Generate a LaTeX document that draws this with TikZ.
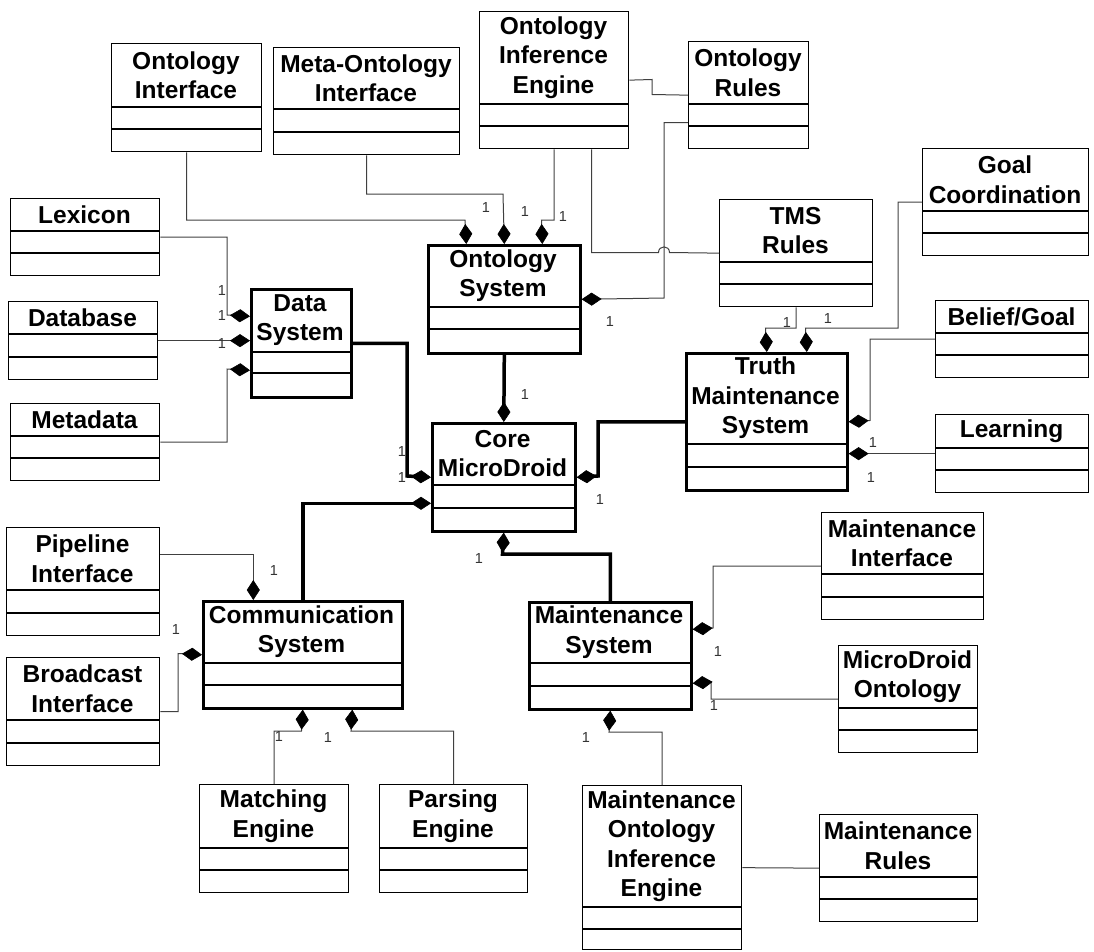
\documentclass[tikz,border=0pt]{standalone}
\usepackage{fontspec}
\setmainfont{Liberation Sans}
\usetikzlibrary{arrows.meta}

\tikzset{
  cls/.style={draw=black, line width=1.3pt, inner sep=0pt},
  syscls/.style={draw=black, line width=2.6pt, inner sep=0pt},
  clsrule/.style={line width=1.3pt},
  sysclsrule/.style={line width=2.6pt},
  title/.style={font=\fontsize{24.5}{29.5}\selectfont\bfseries, align=center, inner sep=0pt},
  assoc/.style={line width=1pt, draw=black!75},
  part/.style={assoc, -{Diamond[length=20pt,width=13pt,line width=0.6pt,color=black]}},
  corelink/.style={line width=3.5pt, draw=black, -{Diamond[length=20pt,width=13pt,line width=0.6pt]}},
  mult/.style={font=\fontsize{14.5}{14.5}\selectfont, text=black!80, inner sep=0pt},
}

% #1 name, #2 left, #3 top, #4 right, #5 bottom, #6/#7 compartment rules, #8 title, #9 style
\newcommand\umlclass[9]{%
  \node[#9, minimum width={(#4-#2)*1pt}, minimum height={(#5-#3)*1pt}, anchor=north west] (#1) at (#2,#3) {};
  \draw[#9rule] (#2,#6) -- (#4,#6) (#2,#7) -- (#4,#7);
  \node[title] (#1-title) at ({(#2+#4)/2},{(#3+#6)/2}) {#8};
}

\begin{document}
\begin{tikzpicture}[x=1pt,y=-1pt]
\useasboundingbox (0,0) rectangle (1094,951);

% ontology part
\umlclass{oi}{111}{43}{261}{151}{107}{129}{Ontology\\Interface}{cls}
\umlclass{moi}{273}{47}{459}{154}{109}{132}{Meta-Ontology\\Interface}{cls}
\umlclass{oie}{479}{11}{628}{148}{104}{126}{Ontology\\Inference\\Engine}{cls}
\umlclass{orules}{688}{41}{808}{148}{104}{126}{Ontology\\Rules}{cls}
\umlclass{os}{427}{244}{579}{352}{307}{329}{Ontology\\System}{syscls}

% truth maintenance part
\umlclass{tmsr}{719}{199}{872}{306}{262}{284}{TMS\\Rules}{cls}
\umlclass{goal}{922}{148}{1088}{255}{211}{233}{Goal\\Coordination}{cls}
\umlclass{belief}{935}{300}{1088}{377}{333}{355}{Belief/Goal}{cls}
\umlclass{learn}{935}{414}{1088}{492}{448}{470}{Learning}{cls}
\umlclass{tms}{685}{352}{846}{489}{444}{467}{Truth\\Maintenance\\System}{syscls}

% data part
\umlclass{lex}{10}{198}{159}{275}{231}{253}{Lexicon}{cls}
\umlclass{db}{8}{301}{157}{379}{334}{357}{Database}{cls}
\umlclass{meta}{10}{403}{159}{480}{436}{458}{Metadata}{cls}
\umlclass{ds}{250}{288}{350}{396}{352}{373}{Data\\System}{syscls}

% core
\umlclass{core}{431}{422}{574}{530}{485}{508}{Core\\MicroDroid}{syscls}

% communication part
\umlclass{pipe}{6}{527}{159}{635}{590}{613}{Pipeline\\Interface}{cls}
\umlclass{bcast}{6}{657}{159}{765}{720}{743}{Broadcast\\Interface}{cls}
\umlclass{comm}{202}{600}{401}{707}{663}{685}{Communication\\System}{syscls}
\umlclass{match}{199}{784}{348}{892}{848}{870}{Matching\\Engine}{cls}
\umlclass{parse}{379}{784}{527}{892}{848}{870}{Parsing\\Engine}{cls}

% maintenance part
\umlclass{ms}{528}{601}{690}{708}{663}{686}{Maintenance\\System}{syscls}
\umlclass{mi}{821}{512}{983}{619}{574}{597}{Maintenance\\Interface}{cls}
\umlclass{mdo}{838}{645}{977}{752}{708}{730}{MicroDroid\\Ontology}{cls}
\umlclass{moie}{582}{785}{741}{949}{907}{929}{Maintenance\\Ontology\\Inference\\Engine}{cls}
\umlclass{mrules}{819}{814}{977}{921}{877}{899}{Maintenance\\Rules}{cls}

% ontology connectors
\draw[part] (oi.south) |- (465,220) -- ([xshift=-38pt]os.north);
\draw[part] (moi.south) |- (503,194) -- (os.north);
\draw[part] (oie.south) |- (541.5,220) -- ([xshift=38pt]os.north);
\draw[assoc] ([xshift=37.5pt]oie.south) |- (658.5,252.5)
  .. controls (658.5,245) and (669.5,245) .. (669.5,252.5) -- (tmsr.west);
\draw[part] ([yshift=-27.5pt]orules.west) -| (664,298) -- (os.east);
\draw[assoc] (oie.east) -- (652,79.5) -- (652,94.5) -- (orules.west);

% data connectors
\draw[part] (lex.east) -| (227,315) -- ([yshift=27pt]ds.west);
\draw[part] (db.east) -- (db.east -| ds.west);
\draw[part] (meta.east) -| (227,369) -- ([yshift=-27pt]ds.west);

% links into the core
\draw[corelink] (ds.east) -| (407,476) -- (core.west);
\draw[corelink] (os.south) -- (core.north);
\draw[corelink] (tms.west) -| (598,476) -- (core.east);
\draw[corelink] (comm.north) |- ([yshift=-26pt]core.west);
\draw[corelink] (ms.north) |- (502.5,554) -- (core.south);

% truth maintenance connectors
\draw[part] (tmsr.south) |- (765.5,328) -- (tms.north);
\draw[part] (goal.west) -| (898,328) -- (805.5,328) -- ([xshift=40pt]tms.north);
\draw[part] (belief.west) -| (870,420.5) -- (tms.east);
\draw[part] (learn.west) -- (learn.west -| tms.east);

% communication connectors
\draw[part] ([yshift=27pt]pipe.east) -| ([xshift=-49.5pt]comm.north);
\draw[part] (bcast.east) -| (178,653.5) -- (comm.west);
\draw[part] (match.north) |- (301.5,731) -- (comm.south);
\draw[part] (parse.north) |- (351,731) -- ([xshift=49.5pt]comm.south);

% maintenance connectors
\draw[part] (mi.west) -| (713,628) -- ([yshift=26.5pt]ms.east);
\draw[part] (mdo.west) -| (711,682) -- ([yshift=-27.5pt]ms.east);
\draw[part] (moie.north) |- (609,732) -- (ms.south);
\draw[assoc] (moie.east) -- (mrules.west);

% multiplicities
\node[mult] (m1) at (486,208) {1};
\node[mult] (m2) at (525,212) {1};
\node[mult] (m3) at (563,217) {1};
\node[mult] (m4) at (610,322) {1};
\node[mult] (m5) at (222,291) {1};
\node[mult] (m6) at (222,316) {1};
\node[mult] (m7) at (222,344) {1};
\node[mult] (m8) at (402,452) {1};
\node[mult] (m9) at (402,478) {1};
\node[mult] (m10) at (525,395) {1};
\node[mult] (m11) at (600,500) {1};
\node[mult] (m12) at (479,559) {1};
\node[mult] (m13) at (787,323) {1};
\node[mult] (m14) at (828,319) {1};
\node[mult] (m15) at (873,443) {1};
\node[mult] (m16) at (871,478) {1};
\node[mult] (m17) at (274,571) {1};
\node[mult] (m18) at (176,629) {1};
\node[mult] (m19) at (279,736) {1};
\node[mult] (m20) at (328,737) {1};
\node[mult] (m21) at (718,651) {1};
\node[mult] (m22) at (714,705) {1};
\node[mult] (m23) at (586,737) {1};
\end{tikzpicture}
\end{document}
